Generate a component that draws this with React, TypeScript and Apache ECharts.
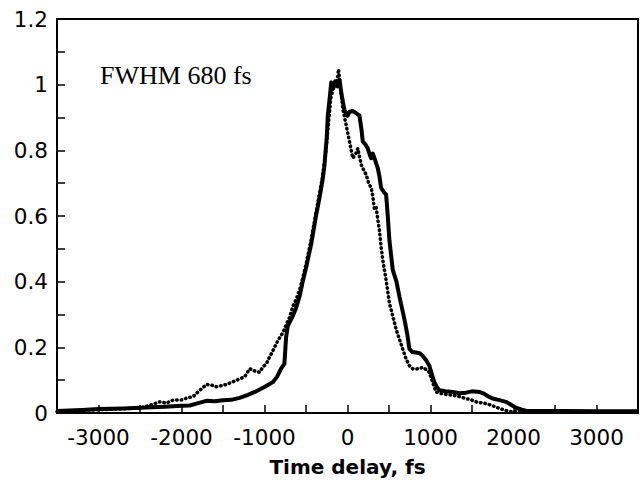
import React, { useEffect, useRef } from "react";
import * as echarts from "echarts";

const solidX = [-3500, -3200, -3000, -2700, -2500, -2200, -2000, -1900, -1800, -1700, -1600, -1500, -1400, -1300, -1200, -1100, -1000, -900, -850, -800, -760, -740, -720, -660, -620, -577, -540, -497, -437, -380, -337, -300, -277, -250, -237, -210, -196, -170, -150, -120, -96, -76, -50, -36, 0, 24, 60, 84, 120, 144, 170, 184, 210, 244, 270, 285, 305, 325, 345, 365, 385, 405, 440, 465, 485, 505, 545, 590, 625, 686, 720, 746, 780, 826, 870, 906, 950, 986, 1020, 1046, 1080, 1107, 1180, 1267, 1350, 1428, 1500, 1588, 1650, 1700, 1748, 1820, 1909, 1970, 2029, 2100, 2149, 2300, 2600, 3000, 3500];
const solidY = [0.006, 0.009, 0.012, 0.014, 0.016, 0.019, 0.022, 0.023, 0.03, 0.037, 0.036, 0.039, 0.04, 0.046, 0.055, 0.066, 0.079, 0.094, 0.11, 0.135, 0.15, 0.23, 0.265, 0.295, 0.32, 0.355, 0.4, 0.445, 0.515, 0.6, 0.656, 0.71, 0.756, 0.84, 0.906, 0.97, 1.007, 0.99, 1.01, 0.995, 1.015, 0.977, 0.94, 0.921, 0.905, 0.917, 0.92, 0.917, 0.91, 0.906, 0.86, 0.827, 0.82, 0.806, 0.785, 0.776, 0.79, 0.776, 0.76, 0.746, 0.72, 0.686, 0.672, 0.666, 0.6, 0.526, 0.436, 0.4, 0.355, 0.285, 0.24, 0.195, 0.186, 0.184, 0.182, 0.174, 0.16, 0.144, 0.115, 0.094, 0.078, 0.069, 0.066, 0.064, 0.06, 0.062, 0.066, 0.064, 0.058, 0.05, 0.044, 0.04, 0.034, 0.025, 0.016, 0.01, 0.007, 0.006, 0.006, 0.005, 0.005];

const dottedX = [-3500, -3200, -3000, -2700, -2500, -2400, -2261, -2180, -2105, -2000, -1940, -1860, -1780, -1700, -1640, -1580, -1520, -1459, -1380, -1299, -1240, -1179, -1120, -1058, -1020, -978, -940, -898, -840, -778, -737, -700, -658, -620, -577, -540, -497, -440, -400, -350, -300, -260, -230, -200, -170, -140, -120, -108, -90, -70, -56, -16, 24, 64, 100, 124, 145, 165, 195, 225, 255, 285, 305, 325, 345, 365, 385, 405, 435, 465, 505, 545, 586, 625, 665, 705, 746, 790, 826, 870, 906, 950, 986, 1030, 1066, 1150, 1267, 1350, 1428, 1490, 1548, 1610, 1668, 1750, 1828, 1900, 1950, 2200, 2600, 3000, 3500];
const dottedY = [0.004, 0.008, 0.01, 0.013, 0.015, 0.022, 0.034, 0.03, 0.039, 0.04, 0.045, 0.05, 0.069, 0.087, 0.085, 0.08, 0.083, 0.087, 0.095, 0.104, 0.11, 0.135, 0.128, 0.124, 0.14, 0.15, 0.17, 0.19, 0.22, 0.245, 0.27, 0.29, 0.325, 0.345, 0.375, 0.41, 0.455, 0.525, 0.58, 0.65, 0.72, 0.8, 0.88, 0.96, 0.99, 1.0, 1.02, 1.047, 1.0, 0.96, 0.926, 0.876, 0.827, 0.776, 0.79, 0.806, 0.78, 0.756, 0.74, 0.726, 0.7, 0.686, 0.66, 0.62, 0.626, 0.59, 0.556, 0.505, 0.45, 0.405, 0.335, 0.295, 0.255, 0.225, 0.195, 0.165, 0.144, 0.134, 0.134, 0.136, 0.139, 0.132, 0.124, 0.09, 0.064, 0.058, 0.054, 0.05, 0.044, 0.04, 0.034, 0.031, 0.029, 0.022, 0.014, 0.008, 0.005, 0.004, 0.004, 0.004, 0.004];

const xLabels = ["-3000", "-2000", "-1000", "0", "1000", "2000", "3000"];
const yLabels = ["0", "0.2", "0.4", "0.6", "0.8", "1", "1.2"];
const annotation = "FWHM 680 fs";
const xTitle = "Time delay, fs";

export default function App() {
  const ref = useRef<HTMLDivElement>(null);
  useEffect(() => {
    if (!ref.current) return;
    const chart = echarts.init(ref.current, null, { renderer: "svg" });
    const solid = solidX.map((x, i) => [x, solidY[i]]);
    const dotted = dottedX.map((x, i) => [x, dottedY[i]]);
    chart.setOption({
      animation: false,
      backgroundColor: "#fff",
      grid: {
        left: 57,
        right: 2,
        top: 19,
        bottom: 64,
        show: true,
        borderColor: "#000",
        borderWidth: 2,
      },
      xAxis: {
        type: "value",
        min: -3500,
        max: 3500,
        interval: 500,
        name: xTitle,
        nameLocation: "middle",
        nameGap: 44,
        nameTextStyle: { fontFamily: "DejaVu Sans", fontWeight: "bold", fontSize: 20, color: "#000" },
        axisLine: { onZero: false, lineStyle: { color: "#000", width: 2 } },
        axisTick: { inside: true, length: 8, lineStyle: { color: "#000", width: 1.5 } },
        splitLine: { show: false },
        axisLabel: {
          fontFamily: "DejaVu Sans",
          fontSize: 21.5,
          color: "#000",
          margin: 13,
          formatter: (v: number) => {
            const s = String(Math.round(v));
            return xLabels.includes(s) ? s : "";
          },
        },
      },
      yAxis: {
        type: "value",
        min: 0,
        max: 1.2,
        interval: 0.1,
        axisLine: { show: true, onZero: false, lineStyle: { color: "#000", width: 2 } },
        axisTick: { show: true, inside: true, length: 8, lineStyle: { color: "#000", width: 1.5 } },
        splitLine: { show: false },
        axisLabel: {
          fontFamily: "DejaVu Sans",
          fontSize: 21.5,
          color: "#000",
          margin: 9,
          formatter: (v: number) => {
            const s = String(+v.toFixed(1));
            return yLabels.includes(s) ? s : "";
          },
        },
      },
      graphic: [
        {
          type: "text",
          left: 100,
          top: 62,
          style: {
            text: annotation,
            font: "26px 'Liberation Serif'",
            fill: "#000",
          },
        },
      ],
      series: [
        {
          type: "line",
          data: solid,
          showSymbol: false,
          lineStyle: { color: "#000", width: 4, join: "round" },
          z: 2,
        },
        {
          type: "line",
          data: dotted,
          showSymbol: false,
          lineStyle: { color: "#000", width: 3.5, type: [0.5, 4], cap: "round" },
          z: 3,
        },
      ],
    });
    return () => chart.dispose();
  }, []);
  return <div ref={ref} style={{ width: 641, height: 482, position: "absolute", left: 0, top: 0 }} />;
}
